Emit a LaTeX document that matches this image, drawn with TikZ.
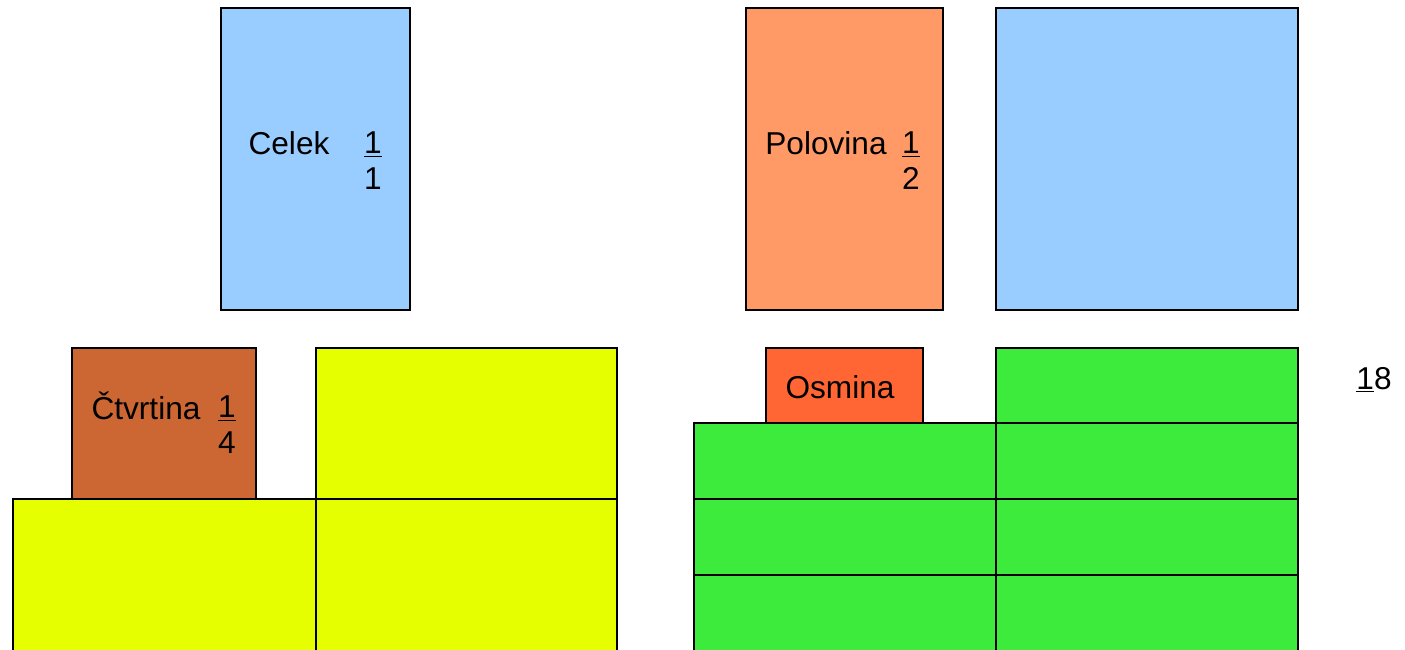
\documentclass[tikz,border=0pt]{standalone}
\usepackage{fontspec}
\setmainfont{Liberation Sans}
\usepackage{xcolor}
\usetikzlibrary{positioning}

\definecolor{celekblue}{HTML}{99CCFF}
\definecolor{polorange}{HTML}{FF9966}
\definecolor{ctvbrown}{HTML}{CC6633}
\definecolor{ctvyellow}{HTML}{E5FF00}
\definecolor{osmred}{HTML}{FF6633}
\definecolor{osmgreen}{HTML}{3DEB3D}

\tikzset{
  piece/.style={draw=black, line width=0.8pt},
  lbl/.style={inner sep=0pt, anchor=base, font=\fontsize{18}{20}\selectfont},
  frac/.style={lbl, align=center}
}

\begin{document}
\begin{tikzpicture}[x=0.02cm, y=-0.02cm]
			\clip (0,0) rectangle (1405,649);
			
			% celek
			\draw[piece, fill=celekblue] (221,8) rectangle (410,310);
			\node[lbl] (celek) at (289,154) {Celek};
			\node[frac] (celekfrac) at (373,189) {\underline{1}\\1};
			
			% polovina
			\draw[piece, fill=polorange] (746,8) rectangle (943,310);
			\draw[piece, fill=celekblue] (996,8) rectangle (1298,310);
			\node[lbl] (polovina) at (826,154) {Polovina};
			\node[frac] (polfrac) at (911,189) {\underline{1}\\2};
			
			% ctvrtina
			\draw[piece, fill=ctvbrown] (72,348) rectangle (256,499);
			\draw[piece, fill=ctvyellow] (316,348) rectangle (617,499);
			\draw[piece, fill=ctvyellow] (13,499) rectangle (316,700);
			\draw[piece, fill=ctvyellow] (316,499) rectangle (617,700);
			\node[lbl] (ctvrtina) at (146,419) {Čtvrtina};
			\node[frac] (ctvfrac) at (227,453) {\underline{1}\\4};
			
			% osmina
			\draw[piece, fill=osmred] (766,348) rectangle (923,423);
			\draw[piece, fill=osmgreen] (996,348) rectangle (1298,423);
			\foreach \y/\h in {423/499, 499/575, 575/700} {
				\draw[piece, fill=osmgreen] (694,\y) rectangle (996,\h);
				\draw[piece, fill=osmgreen] (996,\y) rectangle (1298,\h);
			}
			\node[lbl] (osmina) at (840,398) {Osmina};
			\node[lbl] (osmfrac) at (1374,389) {\underline{1}8};
\end{tikzpicture}
\end{document}
